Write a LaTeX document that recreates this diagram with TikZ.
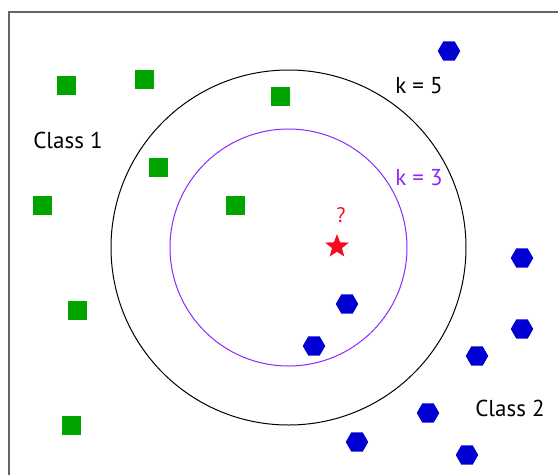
\documentclass[tikz,border=0pt]{standalone}
\usepackage{fontspec}
\setmainfont{PT Sans}
\usetikzlibrary{shapes.geometric}

\definecolor{clsgreen}{RGB}{0,165,0}
\definecolor{clsblue}{RGB}{0,0,210}
\definecolor{knnpurple}{RGB}{140,40,255}
\definecolor{qred}{RGB}{245,10,30}

\begin{document}
\begin{tikzpicture}[
    x=1pt, y=-1pt,
    square/.style={rectangle, minimum size=19pt, inner sep=0pt, fill=clsgreen},
    hexa/.style={regular polygon, regular polygon sides=6, minimum size=22.5pt, inner sep=0pt, fill=clsblue},
    query/.style={star, star points=5, star point ratio=2.4, minimum size=25pt, inner sep=0pt, fill=qred},
    label/.style={font=\fontsize{23}{26}\selectfont, inner sep=0pt},
    frame/.style={draw=black!60, line width=1.5pt}
]
\useasboundingbox (0,0) rectangle (558,475);

% frame
\draw [frame] (9,475) -- (9,12) -- (558,12);

% neighbourhoods
\coordinate (ctr) at (288.5,247.5);
\draw [black, line width=1pt] (ctr) circle (177.5);
\draw [knnpurple, line width=1pt] (ctr) circle (118.5);

% class 1
\foreach \i/\p in {1/{66,85}, 2/{144,79}, 3/{280,96}, 4/{158,167},
                   5/{42,205}, 6/{235,205}, 7/{77,310}, 8/{71,425}}
    \node (sq\i) [square] at (\p) {};

% class 2
\foreach \i/\p in {1/{449,51}, 2/{522,258}, 3/{347,304}, 4/{314,346}, 5/{522,329},
                   6/{477,356}, 7/{428,413}, 8/{357,442}, 9/{467,455}}
    \node (hx\i) [hexa] at (\p) {};

% unknown sample
\node (star) [query] at (337,246.5) {};
\node (qmark) [inner sep=0pt, text=qred, font=\fontsize{21}{24}\selectfont] at (341,215) {?};

\node (cls1) [label] at (68,140) {Class 1};
\node (cls2) [label] at (510,408) {Class 2};
\node (k5) [label] at (419,86) {k = 5};
\node (k3) [label, text=knnpurple] at (419,178) {k = 3};

\end{tikzpicture}
\end{document}
